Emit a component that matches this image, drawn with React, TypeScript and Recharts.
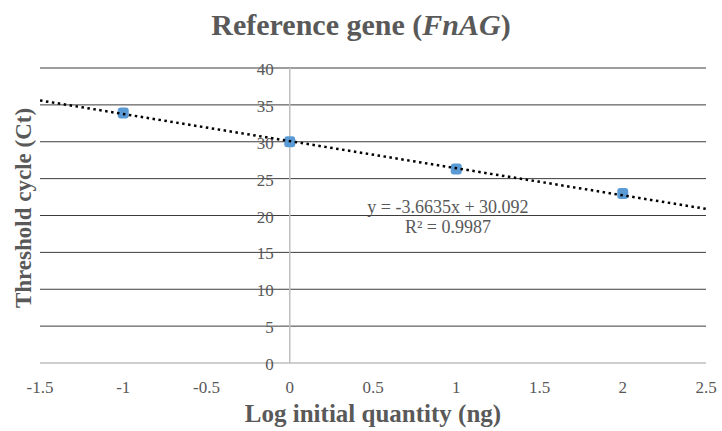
import { ComposedChart, Scatter, XAxis, YAxis, CartesianGrid, ReferenceLine, ReferenceDot } from "recharts"

const logQuantity = [-1, 0, 1, 2]
const thresholdCycle = [33.9, 30.0, 26.3, 23.0]

// dotted linear trendline, ends
const trendX = [-1.5, 2.5]
const trendY = [35.6, 20.9]

const xTicks = [-1.5, -1, -0.5, 0, 0.5, 1, 1.5, 2, 2.5]
const yTicks = [0, 5, 10, 15, 20, 25, 30, 35, 40]
const gridValues = [5, 10, 15, 20, 25, 30, 35, 40]

const equation = "y = -3.6635x + 30.092"
const rSquared = "R² = 0.9987"

const SERIF = "Liberation Serif, Times New Roman, serif"
const TEXT = "#595959"

const points = logQuantity.map((x, i) => ({ x, y: thresholdCycle[i] }))
const trend = trendX.map((x, i) => ({ x, y: trendY[i] }))

function Marker(props: any) {
  const { cx, cy } = props
  if (cx == null || cy == null) return null
  return <rect x={cx - 5.5} y={cy - 5.5} width={11} height={11} rx={3} fill="#5B9BD5" />
}

function renderXTick(props: any) {
  const { x, payload, index } = props
  return (
    <text key={index} x={x} y={393} textAnchor="middle" fill={TEXT} fontFamily={SERIF} fontSize={17} style={{ fontFamily: SERIF, fontSize: 17 }}>
      {payload.value}
    </text>
  )
}

function YTickLabel(props: any) {
  const { viewBox, value } = props
  if (!viewBox) return null
  return (
    <text x={viewBox.x - 16} y={viewBox.y} dy={7} textAnchor="end" fill={TEXT} fontFamily={SERIF} fontSize={17} style={{ fontSize: 17, fontFamily: SERIF }}>
      {value}
    </text>
  )
}

function EquationLabel(props: any) {
  const { viewBox } = props
  if (!viewBox) return null
  return (
    <text x={viewBox.x} y={viewBox.y} textAnchor="middle" fill={TEXT} fontFamily={SERIF} fontSize={18} style={{ fontSize: 18, fontFamily: SERIF }}>
      <tspan x={viewBox.x} dy={0}>{equation}</tspan>
      <tspan x={viewBox.x} dy={20}>{rSquared}</tspan>
    </text>
  )
}

export default function App() {
  return (
    <div style={{ position: "absolute", left: 0, top: 0, width: 722, height: 431, background: "#fff", fontFamily: SERIF }}>
      <div
        style={{
          position: "absolute", left: 0, top: 7, width: 722, textAlign: "center",
          fontWeight: "bold", fontSize: 30, color: TEXT, lineHeight: "36px",
        }}
      >
        Reference gene (<i>FnAG</i>)
      </div>
      <div
        style={{
          position: "absolute", left: 40, top: 399, width: 666, textAlign: "center",
          fontWeight: "bold", fontSize: 25, color: TEXT, lineHeight: "30px",
        }}
      >
        Log initial quantity (ng)
      </div>
      <div
        style={{
          position: "absolute", left: 24, top: 208, transform: "translate(-50%, -50%) rotate(-90deg)",
          whiteSpace: "nowrap", fontWeight: "bold", fontSize: 23, color: TEXT, lineHeight: "26px",
        }}
      >
        Threshold cycle (Ct)
      </div>
      <ComposedChart width={722} height={431} margin={{ top: 68, right: 16, bottom: 38, left: 40 }}>
        <CartesianGrid horizontal vertical={false} horizontalValues={gridValues} stroke="#3c3c3c" strokeWidth={1} />
        <XAxis
          type="number"
          dataKey="x"
          domain={[-1.5, 2.5]}
          ticks={xTicks}
          height={30}
          axisLine={{ stroke: "#bfbfbf", strokeWidth: 1.5 }}
          tickLine={false}
          tick={renderXTick}
          allowDataOverflow
        />
        <YAxis type="number" dataKey="y" domain={[0, 40]} ticks={yTicks} hide width={0} />
        <ReferenceLine x={0} stroke="#bfbfbf" strokeWidth={1.5} />
        {yTicks.map((t) => (
          <ReferenceDot key={t} x={0} y={t} r={0} fill="none" stroke="none" label={<YTickLabel value={t} />} />
        ))}
        <ReferenceDot x={0.95} y={20.3} r={0} fill="none" stroke="none" label={<EquationLabel />} />
        <Scatter data={points} shape={<Marker />} isAnimationActive={false} />
        <Scatter
          data={trend}
          line={{ stroke: "#000", strokeWidth: 2.5, strokeDasharray: "2.5 3.5" }}
          shape={() => <g />}
          isAnimationActive={false}
        />
      </ComposedChart>
    </div>
  )
}
